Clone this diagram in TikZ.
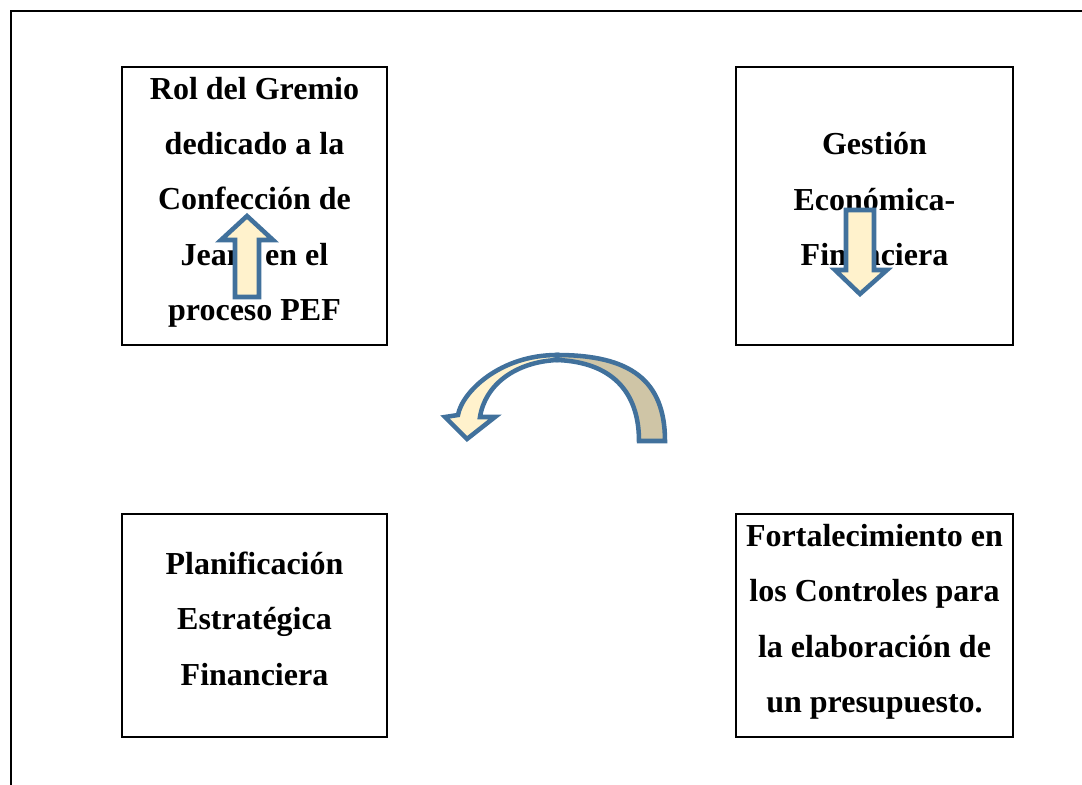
\documentclass[tikz,border=0pt]{standalone}
\usepackage{fontspec}
\setmainfont{Liberation Serif}
\usetikzlibrary{positioning}
\definecolor{arrowblue}{RGB}{65,113,156}
\definecolor{cream}{RGB}{255,242,204}
\definecolor{sand}{RGB}{207,197,166}

\begin{document}
\begin{tikzpicture}[x=0.75pt,y=-0.75pt,
  box/.style={draw, line width=1.5pt, inner sep=0pt},
  txt/.style={align=center, font=\fontsize{24}{41.6}\selectfont\bfseries},
  blockarrow/.style={draw=arrowblue, fill=cream, line width=3.4pt, line join=miter}]

\useasboundingbox (0,0) rectangle (1082,785);

% Frame
\draw[line width=1.5pt] (11,785) -- (11,11) -- (1082,11);

% Boxes
\node[box, minimum width=198.75pt, minimum height=208.5pt] (rol) at (254.5,206) {};
\node[box, minimum width=207.75pt, minimum height=208.5pt] (gestion) at (874.5,206) {};
\node[box, minimum width=198.75pt, minimum height=167.25pt] (plan) at (254.5,625.5) {};
\node[box, minimum width=207.75pt, minimum height=167.25pt] (fort) at (874.5,625.5) {};

% Texts
\node[txt] (roltext) at ([yshift=2.8pt]rol.center)
  {Rol del Gremio\\dedicado a la\\Confección de\\Jeans en el\\proceso PEF};
\node[txt] (gestiontext) at ([yshift=5pt]gestion.center)
  {Gestión\\Económica-\\Financiera};
\node[txt] (plantext) at ([yshift=5pt]plan.center)
  {Planificación\\Estratégica\\Financiera};
\node[txt] (forttext) at ([yshift=2.8pt]fort.center)
  {Fortalecimiento en\\los Controles para\\la elaboración de\\un presupuesto.};

% Up and down block arrows
\draw[blockarrow] (247,216) -- (273,240) -- (259,240) -- (259,297)
  -- (235,297) -- (235,240) -- (221,240) -- cycle;
\draw[blockarrow] (846,210) -- (874,210) -- (874,270) -- (887,270)
  -- (860,294) -- (835,270) -- (846,270) -- cycle;

% Curved arrow (back part, then front part)
\draw[blockarrow, fill=sand] (665,441) .. controls (665,380) and (630,355) .. (557,355)
  -- (557,360) .. controls (610,362) and (639,390) .. (639,441) -- cycle;
\draw[blockarrow] (557,355) .. controls (500,355) and (462,392) .. (458,415)
  -- (445,417) -- (467,439) -- (495,417) -- (480,417)
  .. controls (485,385) and (515,362) .. (557,360) -- cycle;

\end{tikzpicture}
\end{document}
